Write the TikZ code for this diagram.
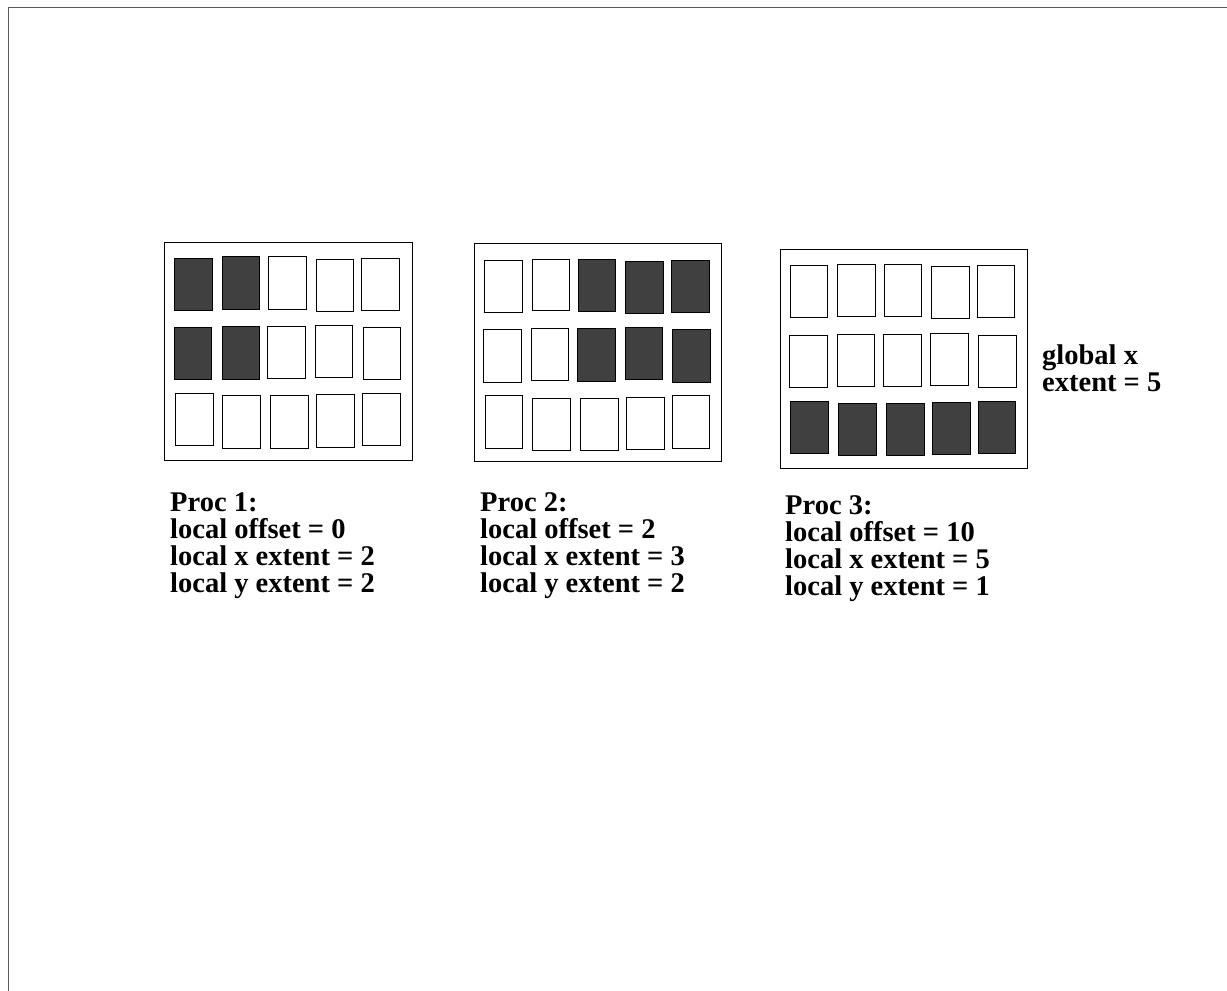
\documentclass[tikz,border=0pt]{standalone}
\usepackage{fontspec}
\setmainfont{Liberation Serif}
\definecolor{cellfill}{HTML}{404040}
\definecolor{framegray}{HTML}{5A5A5A}
\tikzset{
  cellw/.style={draw=black, line width=1pt, fill=white},
  cellf/.style={draw=black, line width=1pt, fill=cellfill},
  procbox/.style={draw=black, line width=1pt},
  lbl/.style={anchor=base west, inner sep=0pt, font=\fontsize{28.5}{27}\selectfont\bfseries},
  pageframe/.style={draw=framegray, line width=1.5pt}
}
\begin{document}
\begin{tikzpicture}[x=1pt, y=-1pt]
\useasboundingbox (0,0) rectangle (1227,991);
% page frame (top and left edges)
\coordinate (ftr) at (1227,7.5);
\coordinate (ftl) at (8.5,7.5);
\coordinate (fbl) at (8.5,991);
\draw[pageframe] (ftr) -- (ftl) -- (fbl);
% outer boxes
\draw[procbox] (164.7,242) rectangle (412,460);
\draw[procbox] (474.7,243.3) rectangle (721.3,461.7);
\draw[procbox] (780.3,249) rectangle (1027,468);
% box 1 cells
\foreach \xa/\ya/\xb/\yb/\st in {
 174.7/258/212.7/310/cellf, 222.3/256.7/259.7/309.3/cellf, 268.7/256.7/306.3/309/cellw, 316/259.3/353.7/311/cellw, 361.7/258/399.3/310/cellw,
 174/327.3/211.7/379.7/cellf, 222/326.3/259.7/379/cellf, 267.7/326.7/305.3/378.3/cellw, 315.3/325.3/352.7/377/cellw, 363/327.3/400.3/379.7/cellw,
 175.3/393.7/213/445.7/cellw, 222.7/395.7/260.3/448.3/cellw, 270.7/395.7/308.3/448.3/cellw, 316.3/394.7/354.3/447/cellw, 362/393.3/400/445.7/cellw}
 {\draw[\st] (\xa,\ya) rectangle (\xb,\yb);}
% box 2 cells
\foreach \xa/\ya/\xb/\yb/\st in {
 484.3/260/522.3/312/cellw, 532/259.3/569.7/310.7/cellw, 578.3/259.3/615.7/311/cellf, 625.7/261/663.7/313/cellf, 671.3/260/709/312/cellf,
 483.3/329.3/521.3/382/cellw, 531.3/328.7/568.7/380.3/cellw, 577/328.7/615/381.3/cellf, 625/327.3/662.7/379.7/cellf, 672.7/329.3/710.3/382/cellf,
 485/395.7/522.7/448/cellw, 532.3/398/570.3/450/cellw, 580.3/398/618.3/450/cellw, 626/397/664/449/cellw, 672/395.7/709.7/448/cellw}
 {\draw[\st] (\xa,\ya) rectangle (\xb,\yb);}
% box 3 cells
\foreach \xa/\ya/\xb/\yb/\st in {
 790.7/265.3/827.7/317.7/cellw, 837.7/264.3/875.3/316.7/cellw, 884/264.3/921.7/316.7/cellw, 931.7/266.3/969.3/318.7/cellw, 977.3/265.3/1014.7/317.7/cellw,
 789.3/335/827/387/cellw, 837/334/874.3/386/cellw, 883.3/334/921/386/cellw, 930.7/333/968.3/385/cellw, 978.3/335/1016/387/cellw,
 790.7/401.3/828.7/453.3/cellf, 838.3/403.3/876/455.3/cellf, 886.3/403.3/924/455.3/cellf, 932.3/402.3/970/454.3/cellf, 978/401.3/1015.7/453.3/cellf}
 {\draw[\st] (\xa,\ya) rectangle (\xb,\yb);}
% labels
\node[lbl] (p1a) at (170,511) {Proc 1:};
\node[lbl] (p1b) at (170,538) {local offset = 0};
\node[lbl] (p1c) at (170,565) {local x extent = 2};
\node[lbl] (p1d) at (170,592) {local y extent = 2};
\node[lbl] (p2a) at (480,511) {Proc 2:};
\node[lbl] (p2b) at (480,538) {local offset = 2};
\node[lbl] (p2c) at (480,565) {local x extent = 3};
\node[lbl] (p2d) at (480,592) {local y extent = 2};
\node[lbl] (p3a) at (785,514) {Proc 3:};
\node[lbl] (p3b) at (785,541) {local offset = 10};
\node[lbl] (p3c) at (785,568) {local x extent = 5};
\node[lbl] (p3d) at (785,595) {local y extent = 1};
\node[lbl] (gxa) at (1042,364) {global x};
\node[lbl] (gxb) at (1042,391) {extent = 5};
\end{tikzpicture}
\end{document}
